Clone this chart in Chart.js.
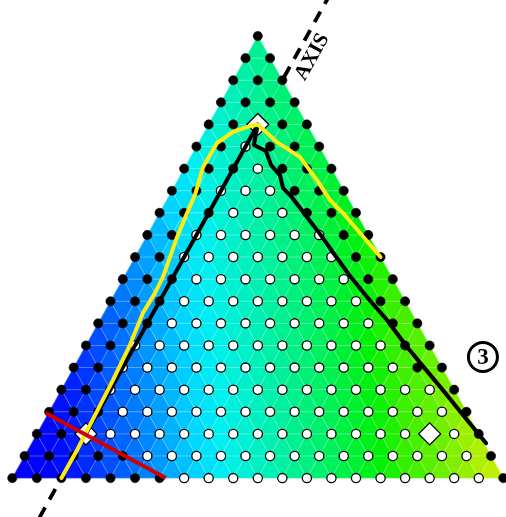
<!DOCTYPE html>
<html><head><meta charset="utf-8">
<script src="https://cdn.jsdelivr.net/npm/chart.js@4.4.1/dist/chart.umd.min.js"></script>
<style>html,body{margin:0;padding:0;background:#fff}#wrap{width:506px;height:517px;position:relative}</style>
</head><body><div id="wrap"><canvas id="c"></canvas></div>
<script>
// ---- data (node grid units: x = i + j/2, y = j ; row 0 = bottom) ----
const GRID_N = 20;
const whiteStart = [7,5,3,3,2,2,2,3,3,3,2,2,3,2,3,2];
const whiteEnd   = [19,18,17,16,15,13,12,11,10,9,8,7,5,4,3,2];
const diamondNodes = [[2,2],[16,2],[2,16]];
const blackLine = [
  {x:3,y:2},{x:10,y:16},{x:9.84,y:15.07},{x:10.33,y:14.80},{x:10.54,y:14.16},{x:10.90,y:13.71},
  {x:11.03,y:13.12},{x:11.35,y:12.76},{x:12.0,y:11.81},{x:12.53,y:11.05},{x:13.1,y:10.15},
  {x:13.75,y:9.15},{x:14.45,y:8.19},{x:15.26,y:7.15},{x:16.08,y:5.93},{x:16.7,y:5.1},
  {x:17.54,y:3.98},{x:18.4,y:2.8},{x:19.3,y:1.58}
];
const yellowLine = [
  {x:2,y:0},{x:2.64,y:1.27},{x:3.37,y:2.85},{x:4.10,y:4.43},{x:4.79,y:6.02},{x:5.32,y:7.47},
  {x:5.81,y:8.37},{x:6.14,y:9.10},{x:6.71,y:10.90},{x:7.12,y:11.99},{x:7.44,y:12.81},
  {x:7.77,y:14.07},{x:8.34,y:15.16},{x:8.99,y:15.66},{x:9.56,y:15.88},{x:10,y:16},
  {x:10.78,y:15.20},{x:11.72,y:14.52},{x:12.41,y:13.48},{x:12.94,y:12.58},{x:13.47,y:11.99},
  {x:14.16,y:11.09},{x:15,y:10}
];
const redLine = [{x:1.36,y:2.94},{x:6.25,y:0}];
const axisLine = [{x:1.1,y:-1.8},{x:12.85,y:21.7}];
const axisLabel = 'AXIS';
const axisLabelPos = {x:12.22,y:19.05};
const circleLabel = '3';
const circlePos = {x:19.17,y:5.48};
const colorStops = [
 [0,[0,0,250]],[1.5,[0,5,250]],[2.5,[0,22,252]],[3.5,[0,60,255]],[4.5,[0,95,255]],[5.5,[0,130,255]],
 [6.5,[0,170,255]],[7.6,[0,215,255]],[8.7,[0,240,240]],[9.8,[0,240,205]],[10.9,[0,240,170]],
 [11.9,[0,240,135]],[12.9,[0,240,100]],[14.0,[0,240,55]],[15.0,[0,240,10]],[16.0,[50,240,0]],
 [17.1,[90,240,0]],[18.1,[130,240,0]],[19.2,[180,240,0]],[20.5,[210,240,0]]
];

// ---- build point lists from the grid ----
const node = (i,j) => ({x: i + j/2, y: j});
const isDiamond = (i,j) => diamondNodes.some(d => d[0]===i && d[1]===j);
const whitePts = [], blackPts = [];
for (let j = 0; j <= GRID_N; j++) {
  for (let i = 0; i + j <= GRID_N; i++) {
    if (isDiamond(i,j)) continue;
    const w = j < whiteStart.length && i >= whiteStart[j] && i <= whiteEnd[j];
    (w ? whitePts : blackPts).push(node(i,j));
  }
}
const diamondPts = diamondNodes.map(([i,j]) => node(i,j));

function cmap(v){
  if (v <= colorStops[0][0]) return colorStops[0][1];
  for (let k = 1; k < colorStops.length; k++) {
    const [v1,c1] = colorStops[k];
    if (v <= v1) {
      const [v0,c0] = colorStops[k-1];
      const t = (v - v0)/(v1 - v0);
      return c0.map((c,n) => Math.round(c + (c1[n]-c)*t));
    }
  }
  return colorStops[colorStops.length-1][1];
}

const meshPlugin = {
  id: 'mesh',
  afterDatasetDraw(chart, args) {
    if (args.index !== 0) return;
    const {ctx} = chart; const sx = chart.scales.x, sy = chart.scales.y;
    const P = (i,j) => [sx.getPixelForValue(i + j/2), sy.getPixelForValue(j)];
    const tris = [];
    for (let j = 0; j < GRID_N; j++) for (let i = 0; i + j < GRID_N; i++) {
      tris.push([[i,j],[i+1,j],[i,j+1]]);
      if (i + j < GRID_N - 1) tris.push([[i+1,j],[i+1,j+1],[i,j+1]]);
    }
    ctx.save();
    ctx.lineJoin = 'round';
    for (const t of tris) {
      const cx = t.reduce((s,[i,j]) => s + i + j/2, 0)/3;
      const cy = t.reduce((s,[i,j]) => s + j, 0)/3;
      const c = cmap(cx + 0.081*cy);
      const col = `rgb(${c[0]},${c[1]},${c[2]})`;
      ctx.beginPath();
      t.forEach(([i,j],k) => { const p = P(i,j); k ? ctx.lineTo(p[0],p[1]) : ctx.moveTo(p[0],p[1]); });
      ctx.closePath();
      ctx.fillStyle = col; ctx.fill();
      ctx.strokeStyle = col; ctx.lineWidth = 0.6; ctx.stroke();
    }
    ctx.strokeStyle = 'rgba(255,255,255,0.22)'; ctx.lineWidth = 0.8;
    for (const t of tris) {
      ctx.beginPath();
      t.forEach(([i,j],k) => { const p = P(i,j); k ? ctx.lineTo(p[0],p[1]) : ctx.moveTo(p[0],p[1]); });
      ctx.closePath(); ctx.stroke();
    }
    ctx.restore();
  },
  afterDraw(chart) {
    const {ctx} = chart; const sx = chart.scales.x, sy = chart.scales.y;
    const p1x = sx.getPixelForValue(axisLine[0].x), p1y = sy.getPixelForValue(axisLine[0].y);
    const p2x = sx.getPixelForValue(axisLine[1].x), p2y = sy.getPixelForValue(axisLine[1].y);
    const ang = Math.atan2(p2y - p1y, p2x - p1x);
    ctx.save();
    ctx.translate(sx.getPixelForValue(axisLabelPos.x), sy.getPixelForValue(axisLabelPos.y));
    ctx.rotate(ang);
    ctx.font = 'bold 21px "Liberation Serif", serif';
    ctx.fillStyle = '#000'; ctx.textAlign = 'center'; ctx.textBaseline = 'middle';
    ctx.fillText(axisLabel, 0, 0);
    ctx.restore();
    const cx = sx.getPixelForValue(circlePos.x), cy = sy.getPixelForValue(circlePos.y);
    ctx.save();
    ctx.beginPath(); ctx.arc(cx, cy, 14.5, 0, Math.PI*2);
    ctx.fillStyle = '#fff'; ctx.fill();
    ctx.lineWidth = 3; ctx.strokeStyle = '#000'; ctx.stroke();
    ctx.font = 'bold 23px "Liberation Serif", serif';
    ctx.fillStyle = '#000'; ctx.textAlign = 'center'; ctx.textBaseline = 'middle';
    ctx.fillText(circleLabel, cx, cy + 1);
    ctx.restore();
  }
};

new Chart(document.getElementById('c'), {
  type: 'scatter',
  data: { datasets: [
    { data: axisLine, showLine: true, borderColor: '#000', borderWidth: 3.8, borderDash: [12,9], pointRadius: 0, order: 10 },
    { data: whitePts, pointRadius: 4.6, pointBackgroundColor: '#fff', pointBorderColor: '#000', pointBorderWidth: 1.3, order: 6 },
    { data: blackPts, pointRadius: 4.6, pointBackgroundColor: '#000', pointBorderColor: '#000', pointBorderWidth: 0.6, order: 6 },
    { data: diamondPts, pointStyle: 'rectRot', pointRadius: 11, pointBackgroundColor: '#fff', pointBorderColor: '#000', pointBorderWidth: 1.3, order: 5 },
    { data: blackLine, showLine: true, borderColor: '#000', borderWidth: 4, pointRadius: 0, borderJoinStyle: 'round', borderCapStyle: 'round', order: 4 },
    { data: yellowLine, showLine: true, borderColor: '#fbec16', borderWidth: 4, pointRadius: 0, borderJoinStyle: 'round', borderCapStyle: 'round', order: 3 },
    { data: redLine, showLine: true, borderColor: '#d00000', borderWidth: 4, pointRadius: 0, borderCapStyle: 'butt', order: 2 }
  ]},
  options: {
    responsive: true, maintainAspectRatio: false, animation: false, devicePixelRatio: 1,
    events: [],
    layout: { padding: 0, autoPadding: false },
    plugins: { legend: { display: false }, tooltip: { enabled: false } },
    scales: {
      x: { type: 'linear', min: -0.501, max: 20.11, display: false },
      y: { type: 'linear', min: -1.76, max: 21.63, display: false }
    }
  },
  plugins: [meshPlugin]
});
</script>
</body></html>
